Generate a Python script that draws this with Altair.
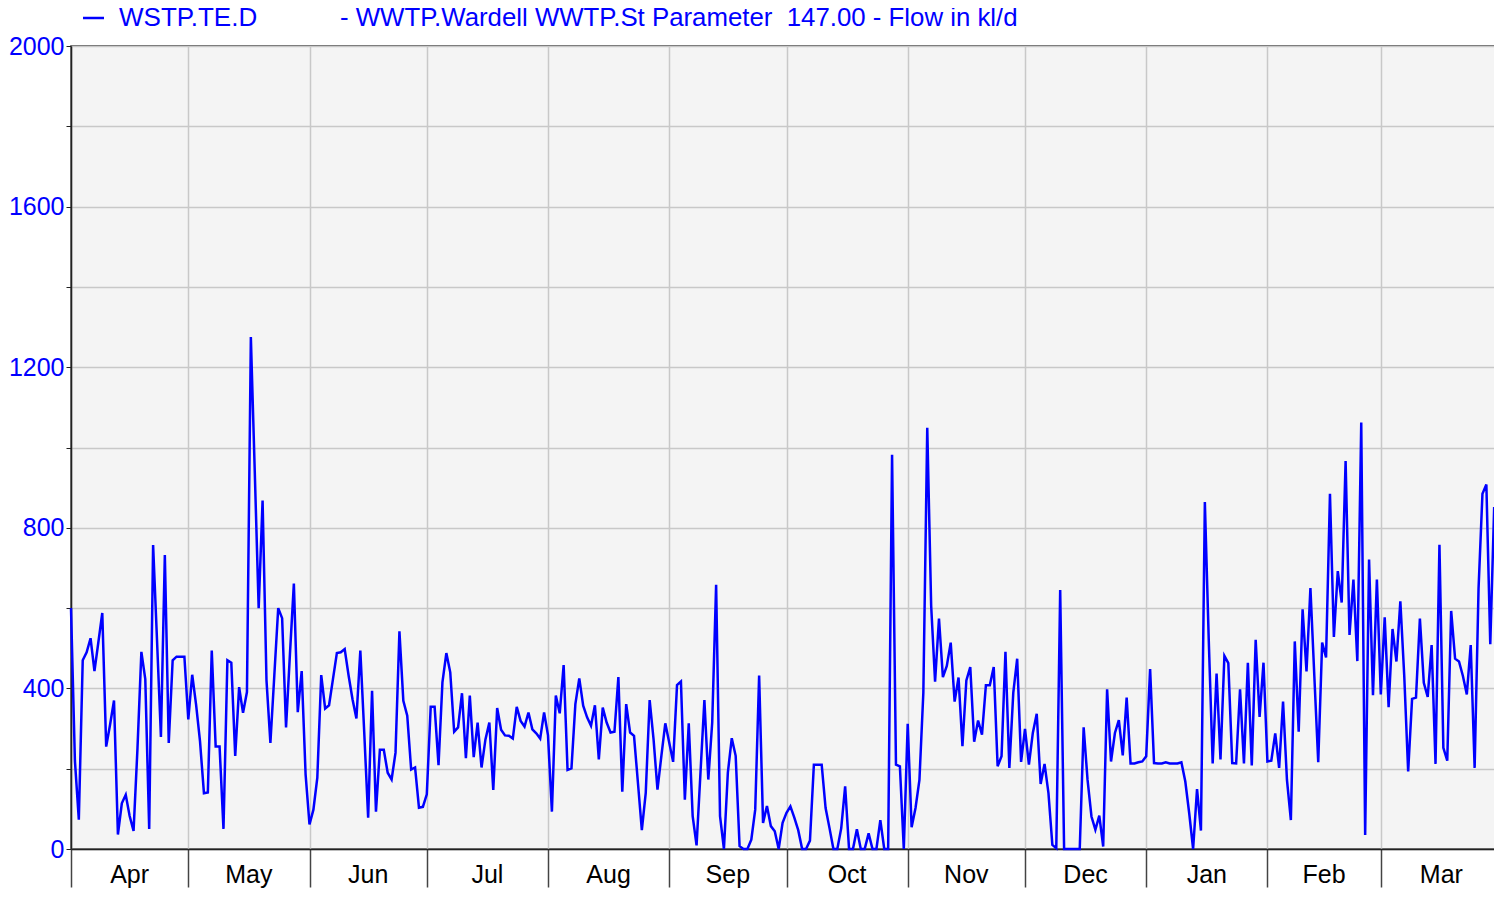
import altair as alt
import pandas as pd

# Daily flow values (kl/d), one list per month
apr = [600, 220, 73, 470, 490, 525, 443, 515, 588, 255, 310, 370, 36, 114, 135,
       82, 45, 250, 491, 423, 50, 757, 520, 279, 732, 264, 470, 479, 479, 479]
may = [323, 434, 359, 268, 139, 141, 494, 255, 255, 50, 470, 464, 232, 403, 339,
       391, 1275, 940, 600, 868, 420, 264, 432, 600, 575, 303, 486, 661, 341, 443, 186]
jun = [61, 98, 178, 433, 350, 358, 423, 488, 490, 498, 432, 373, 325, 494, 290,
       78, 394, 93, 247, 247, 190, 173, 240, 542, 369, 332, 198, 203, 103, 105]
jul = [136, 354, 354, 209, 415, 488, 440, 292, 303, 388, 226, 382, 229, 315, 203,
       273, 315, 147, 351, 297, 283, 282, 275, 354, 319, 305, 340, 298, 288, 275, 340]
aug = [283, 93, 382, 338, 458, 197, 201, 361, 425, 357, 328, 307, 358, 223, 352,
       315, 290, 292, 428, 143, 361, 290, 282, 165, 47, 140, 371, 273, 148, 232, 313]
sep = [265, 217, 408, 417, 123, 313, 82, 9, 190, 371, 173, 315, 658, 82, 0,
       190, 276, 232, 7, 0, 0, 23, 98, 432, 65, 107, 57, 44, 0, 65]
oct_ = [90, 106, 78, 47, 0, 0, 21, 210, 210, 210, 102, 52, 0, 0, 52,
        156, 0, 0, 49, 0, 0, 39, 0, 0, 72, 0, 0, 982, 210, 206, 0]
nov = [312, 54, 102, 172, 389, 1049, 606, 417, 574, 428, 456, 514, 367, 427, 256,
       420, 453, 267, 320, 285, 408, 408, 453, 206, 231, 491, 202, 389, 474, 217]
dec = [299, 210, 289, 337, 162, 212, 139, 10, 2, 645, 0, 0, 0, 0, 0,
       303, 172, 81, 48, 83, 6, 398, 218, 289, 321, 233, 377, 213, 213, 216, 218]
jan = [231, 448, 214, 213, 213, 216, 213, 213, 213, 216, 168, 89, 0, 149, 46,
       864, 520, 213, 437, 223, 481, 463, 214, 213, 398, 213, 464, 208, 521, 329, 464]
feb = [218, 220, 288, 202, 367, 172, 72, 517, 292, 597, 442, 650, 431, 216, 514,
       477, 885, 528, 692, 614, 966, 533, 671, 468, 1062, 35, 721, 383, 671]
mar = [385, 577, 353, 548, 467, 617, 431, 193, 374, 377, 574, 414, 379, 508, 212,
       758, 252, 220, 593, 474, 467, 431, 385, 508, 202, 648, 885, 908, 510, 852, 424]
apr_next = [856]

month_names = ["Apr", "May", "Jun", "Jul", "Aug", "Sep", "Oct", "Nov", "Dec",
               "Jan", "Feb", "Mar"]
series_label = "WSTP.TE.D"
title_text = "- WWTP.Wardell WWTP.St Parameter \u00a0147.00 - Flow in kl/d"
y_ticks = list(range(0, 2001, 200))

values = apr + may + jun + jul + aug + sep + oct_ + nov + dec + jan + feb + mar + apr_next
dates = pd.date_range("2023-04-01", periods=len(values), freq="D")
df = pd.DataFrame({"date": dates.strftime("%Y-%m-%dT%H:%M:%S"), "flow": values})

starts = pd.date_range("2023-04-01", periods=13, freq="MS")
mids = [starts[i] + (starts[i + 1] - starts[i]) / 2 for i in range(12)]
months_df = pd.DataFrame({
    "mid": [m.strftime("%Y-%m-%dT%H:%M:%S") for m in mids],
    "name": month_names,
})
month_values = [alt.DateTime(year=int(s.year), month=int(s.month), date=1) for s in starts]

BLUE = "#0000ff"
FONT = "Liberation Sans"
W, H = 1431, 803

xscale = alt.Scale(domain=[month_values[0], month_values[-1]])

line = alt.Chart(df).mark_line(color=BLUE, strokeWidth=2.5).encode(
    x=alt.X("date:T", scale=xscale,
            axis=alt.Axis(values=month_values, labels=False, title=None,
                          tickSize=38, tickColor="#444", tickWidth=1.5,
                          grid=True, gridColor="#c8c8c8", gridWidth=1.5,
                          domainColor="#222", domainWidth=1.5)),
    y=alt.Y("flow:Q", scale=alt.Scale(domain=[0, 2000], nice=False),
            axis=alt.Axis(values=y_ticks, format="d", title=None,
                          labelExpr="datum.value % 400 === 0 ? datum.label : ''",
                          tickSize=5, tickColor="#222", labelPadding=2,
                          labelFontSize=25, labelFont=FONT, labelColor=BLUE,
                          grid=True, gridColor="#c8c8c8", gridWidth=1.5,
                          domainColor="#222", domainWidth=1.5)),
)

month_text = alt.Chart(months_df).mark_text(
    fontSize=25, font=FONT, color="black", baseline="alphabetic", align="center"
).encode(
    x=alt.X("mid:T", scale=xscale),
    y=alt.value(H + 34),
    text="name:N",
)

legend_rule = alt.Chart(pd.DataFrame({"k": [series_label]})).mark_rule(
    color=BLUE, strokeWidth=2.5
).encode(x=alt.value(12), x2=alt.value(33), y=alt.value(-28))

legend_text = alt.Chart(pd.DataFrame({"t": [series_label]})).mark_text(
    fontSize=26, font=FONT, color=BLUE, align="left", baseline="middle"
).encode(x=alt.value(48), y=alt.value(-28), text="t:N")

title_mark = alt.Chart(pd.DataFrame({"t": [title_text]})).mark_text(
    fontSize=25.8, font=FONT, color=BLUE, align="left", baseline="middle"
).encode(x=alt.value(269), y=alt.value(-28), text="t:N")

chart = alt.layer(line, month_text, legend_rule, legend_text, title_mark).properties(
    width=W, height=H,
    autosize=alt.AutoSizeParams(type="none"),
    padding={"left": 63, "top": 38, "right": -8, "bottom": 40},
    background="white",
).configure_view(
    fill="#f4f4f4", stroke="#333", strokeWidth=1.5
)

chart.save("out.html", embed_options={"renderer": "svg", "actions": False})
